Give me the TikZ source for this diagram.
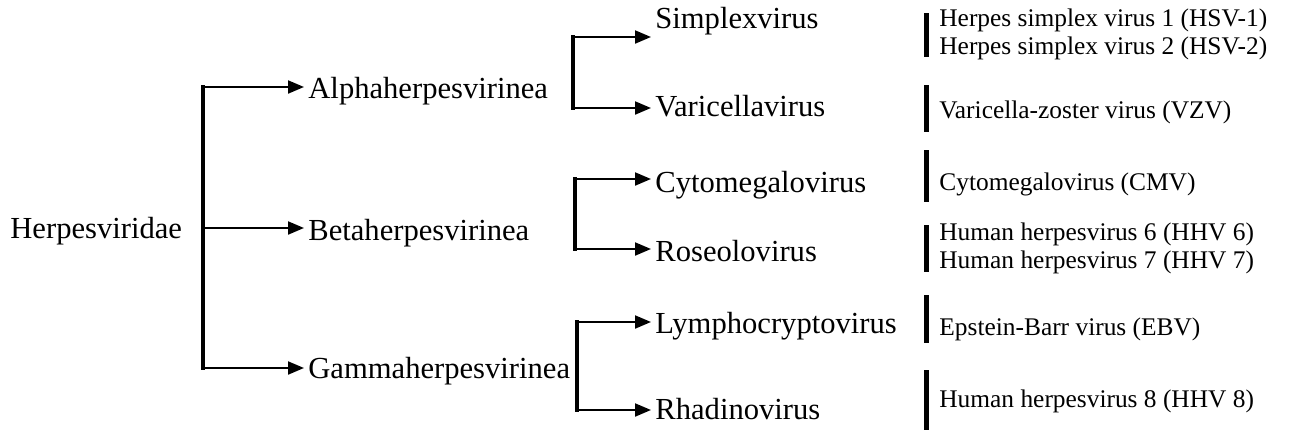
\documentclass[tikz,border=0pt]{standalone}
\usepackage{fontspec}
\setmainfont{Liberation Serif}
\usetikzlibrary{arrows.meta, positioning, calc}
\tikzstyle{taxon} = [inner sep=2pt, anchor=west, font=\fontsize{15.3}{18}\selectfont]
\tikzstyle{species} = [inner sep=0pt, anchor=west, align=left, font=\fontsize{12.7}{14}\selectfont]
\tikzstyle{arrow} = [-{Triangle[length=8pt, width=6.5pt]}, line width=1pt]
\tikzstyle{bar} = [line width=2.3pt, line cap=rect]
\tikzstyle{spbar} = [line width=2.5pt]

\begin{document}
\begin{tikzpicture}[x=0.5pt, y=-0.5pt]
    \useasboundingbox (0,0) rectangle (1291,434);

    % Family
    \node[taxon] (family) at (6,231) {Herpesviridae};

    % Subfamilies
    \node[taxon] (alpha) at (304,91) {Alphaherpesvirinea};
    \node[taxon] (beta) at (304,233) {Betaherpesvirinea};
    \node[taxon] (gamma) at (304,371) {Gammaherpesvirinea};

    % Genera
    \node[taxon] (simplex) at (651,21) {Simplexvirus};
    \node[taxon] (varicella) at (651,106) {Varicellavirus};
    \node[taxon] (cmv) at (651,185) {Cytomegalovirus};
    \node[taxon] (roseolo) at (651,251) {Roseolovirus};
    \node[taxon] (lympho) at (651,326) {Lymphocryptovirus};
    \node[taxon] (rhadino) at (651,409) {Rhadinovirus};

    % Species
    \node[species] (hsv) at (939,34) {Herpes simplex virus 1 (HSV-1)\\Herpes simplex virus 2 (HSV-2)};
    \node[species] (vzv) at (939,112) {Varicella-zoster virus (VZV)};
    \node[species] (hcmv) at (939,184) {Cytomegalovirus (CMV)};
    \node[species] (hhv67) at (939,248) {Human herpesvirus 6 (HHV 6)\\Human herpesvirus 7 (HHV 7)};
    \node[species] (ebv) at (939,329) {Epstein-Barr virus (EBV)};
    \node[species] (hhv8) at (939,401) {Human herpesvirus 8 (HHV 8)};

    % Family bracket
    \coordinate (f1) at (203,87);
    \coordinate (f2) at (203,228);
    \coordinate (f3) at (203,368);
    \draw[bar] (f1) -- (f3);
    \draw[arrow] (f1) -- (f1 -| alpha.west);
    \draw[arrow] (f2) -- (f2 -| beta.west);
    \draw[arrow] (f3) -- (f3 -| gamma.west);

    % Subfamily brackets
    \coordinate (a1) at (573,37);
    \coordinate (a2) at (573,108);
    \coordinate (b1) at (575,179);
    \coordinate (b2) at (575,249);
    \coordinate (g1) at (577,322);
    \coordinate (g2) at (577,410);
    \draw[bar] (a1) -- (a2);
    \draw[bar] (b1) -- (b2);
    \draw[bar] (g1) -- (g2);
    \draw[arrow] (a1) -- (a1 -| simplex.west);
    \draw[arrow] (a2) -- (a2 -| varicella.west);
    \draw[arrow] (b1) -- (b1 -| cmv.west);
    \draw[arrow] (b2) -- (b2 -| roseolo.west);
    \draw[arrow] (g1) -- (g1 -| lympho.west);
    \draw[arrow] (g2) -- (g2 -| rhadino.west);

    % Species bars
    \draw[spbar] (926,13) -- (926,57);
    \draw[spbar] (926,85) -- (926,132);
    \draw[spbar] (926,150) -- (926,202);
    \draw[spbar] (926,225) -- (926,272);
    \draw[spbar] (926,295) -- (926,343);
    \draw[spbar] (926,370) -- (926,430);
\end{tikzpicture}
\end{document}
